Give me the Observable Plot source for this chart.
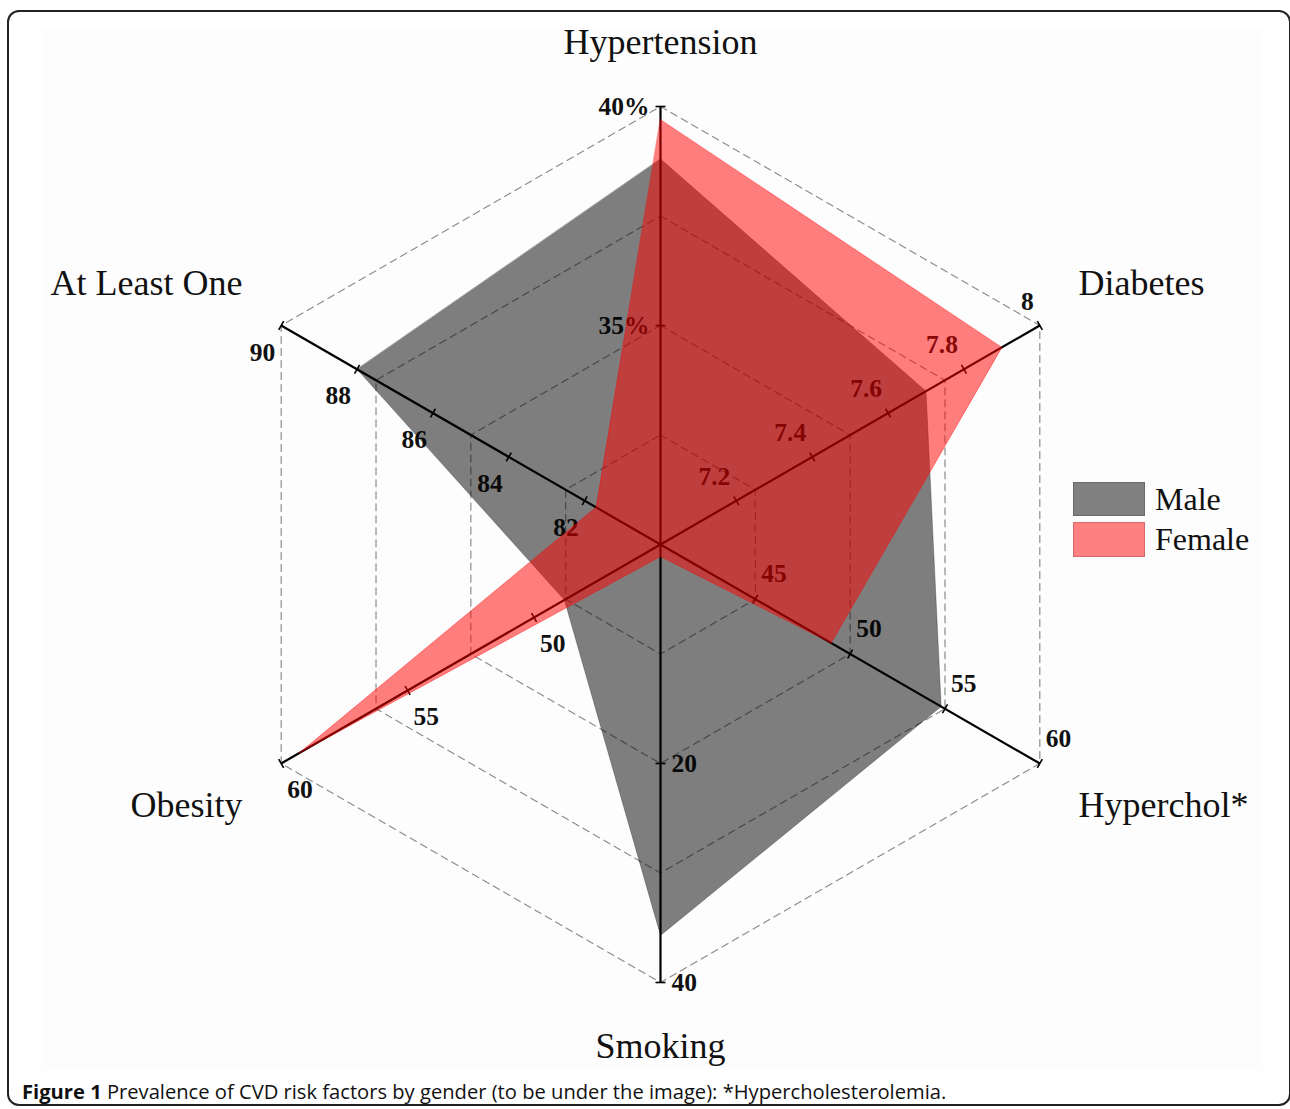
<!DOCTYPE html>
<html>
<head>
<meta charset="utf-8">
<script src="https://cdn.jsdelivr.net/npm/d3@7"></script>
<script src="https://cdn.jsdelivr.net/npm/@observablehq/plot@0.6"></script>
<style>
  html, body { margin: 0; padding: 0; background: #fff; }
  body { width: 1290px; height: 1109px; position: relative; overflow: hidden; }
  #frame { position: absolute; left: 7px; top: 10px; width: 1284px; height: 1096px; box-sizing: border-box;
           border: 2px solid #222; border-radius: 12px; }
  #bg { position: absolute; left: 42px; top: 28px; width: 1220px; height: 1042px; background: #fdfdfd; }
  #chart { position: absolute; left: 0; top: 0; }
  .leg-sw { position: absolute; left: 1073px; width: 72px; height: 34px; box-sizing: border-box; }
  .leg-tx { position: absolute; left: 1155px; font-family: "Liberation Serif", serif; font-size: 32px; line-height: 32px; color: #111; white-space: nowrap; }
  #caption { position: absolute; left: 22px; top: 1079px; font-family: "Open Sans", "Noto Sans", sans-serif; font-size: 20px; line-height: 26px;
             white-space: nowrap; transform-origin: 0 0; color: #111; }
  #capspan { display: inline-block; }
</style>
</head>
<body>
<div id="bg"></div>
<div id="chart"></div>
<div class="leg-sw" style="top:482px; background:#808080; border:1px solid #6a6a6a;"></div>
<div class="leg-tx" style="top:483px;">Male</div>
<div class="leg-sw" style="top:522px; height:35px; background:#ff8080; border:1px solid #d86a6a;"></div>
<div class="leg-tx" style="top:523px;">Female</div>
<div id="frame"></div>
<div id="caption"><span id="capspan"><b>Figure 1</b> Prevalence of CVD risk factors by gender (to be under the image): *Hypercholesterolemia.</span></div>
<script>
// ---- data ----
const categories = ["Hypertension", "Diabetes", "Hyperchol*", "Smoking", "Obesity", "At Least One"];
const axisMin = [30, 7, 40, 0, 45, 80];
const axisMax = [40, 8, 60, 40, 60, 90];
const tickValues = [[35, 40], [7.2, 7.4, 7.6, 7.8, 8], [45, 50, 55, 60], [20, 40], [50, 55, 60], [82, 84, 86, 88, 90]];
const tickSuffix = ["%", "", "", "", "", ""];
const maleValues = [38.8, 7.70, 54.8, 35.7, 48.8, 88.0];
const femaleValues = [39.7, 7.90, 49.0, 1.1, 59.3, 81.7];
const gridLevels = [0.25, 0.5, 0.75, 1];

// ---- layout helpers ----
const angleDeg = [90, 30, -30, -90, -150, 150];
const rad = d => d * Math.PI / 180;
function frac(i, v) { return (v - axisMin[i]) / (axisMax[i] - axisMin[i]); }
function polar(i, f) { const a = rad(angleDeg[i]); return {x: f * Math.cos(a), y: f * Math.sin(a)}; }

const R = 438; // px of unit radius
const cx = 660, cy = 544;

const series = [
  {name: "Male", values: maleValues},
  {name: "Female", values: femaleValues}
];
const polys = series.map(s => s.values.map((v, i) => ({name: s.name, ...polar(i, frac(i, v))})));

const grid = gridLevels.flatMap(l => categories.map((c, i) => ({level: l, ...polar(i, l)})));
const axesLines = categories.map((c, i) => ({i, ...polar(i, 1)}));

const tickLen = 5 / R;
const ticks = categories.flatMap((c, i) => tickValues[i].map(v => {
  const p = polar(i, frac(i, v));
  const a = rad(angleDeg[i]);
  const nx = -Math.sin(a), ny = Math.cos(a);
  return {i, v, label: String(v) + tickSuffix[i], x: p.x, y: p.y,
          x1: p.x - nx * tickLen, y1: p.y - ny * tickLen, x2: p.x + nx * tickLen, y2: p.y + ny * tickLen};
}));

const tickPlacement = [
  {anchor: "end", dx: -11, dy: 0},
  {anchor: "end", dx: -6, dy: -24},
  {anchor: "start", dx: 6, dy: -25},
  {anchor: "start", dx: 11, dy: 0},
  {anchor: "start", dx: 6, dy: 26},
  {anchor: "end", dx: -6, dy: 27}
];

const catLabels = categories.map((c, i) => {
  const a = rad(angleDeg[i]);
  const vertical = Math.abs(Math.cos(a)) < 1e-6;
  const x = vertical ? 0 : Math.cos(a) * 1.102;
  const y = vertical ? Math.sin(a) * 1.146 : Math.sin(a) * 1.192;
  const anchor = vertical ? "middle" : (Math.cos(a) > 0 ? "start" : "end");
  return {name: c, x, y, anchor};
});

const tickMarks = categories.map((c, i) => Plot.text(ticks.filter(t => t.i === i), {
  x: "x", y: "y", text: "label", textAnchor: tickPlacement[i].anchor,
  dx: tickPlacement[i].dx, dy: tickPlacement[i].dy,
  fontSize: 25.5, fontWeight: "bold", fill: "#111"
}));

const catMarks = ["start", "middle", "end"].map(anc => Plot.text(catLabels.filter(d => d.anchor === anc), {
  x: "x", y: "y", text: "name", textAnchor: anc, fontSize: 36, fill: "#111"
}));

const chart = Plot.plot({
  width: 1290,
  height: 1070,
  margin: 0,
  x: {domain: [-1, 1], range: [cx - R, cx + R], axis: null},
  y: {domain: [-1, 1], range: [cy + R, cy - R], axis: null},
  style: {fontFamily: "'Liberation Serif', 'Times New Roman', serif", background: "transparent", overflow: "visible"},
  marks: [
    Plot.line(grid, {x: "x", y: "y", z: "level", curve: "linear-closed", stroke: "#8c8c8c", strokeWidth: 1.2, strokeDasharray: "7,5"}),
    Plot.link(axesLines, {x1: 0, y1: 0, x2: "x", y2: "y", stroke: "#000", strokeWidth: 2.2}),
    Plot.link(ticks, {x1: "x1", y1: "y1", x2: "x2", y2: "y2", stroke: "#000", strokeWidth: 1.6}),
    ...tickMarks,
    ...catMarks,
    Plot.line(polys[0], {x: "x", y: "y", curve: "linear-closed", fill: "#000", fillOpacity: 0.5, stroke: "#000", strokeOpacity: 0.25, strokeWidth: 1}),
    Plot.line(polys[1], {x: "x", y: "y", curve: "linear-closed", fill: "#ff0000", fillOpacity: 0.5, stroke: "#ff0000", strokeOpacity: 0.4, strokeWidth: 1})
  ]
});
document.getElementById("chart").appendChild(chart);

// fit caption width to the reference (offsetWidth ignores transforms)
function fitCaption() {
  const span = document.getElementById("capspan");
  const w = span.offsetWidth;
  if (w > 0) document.getElementById("caption").style.transform = `scaleX(${924 / w})`;
}
fitCaption();
if (document.fonts && document.fonts.ready) document.fonts.ready.then(fitCaption);
</script>
</body>
</html>
